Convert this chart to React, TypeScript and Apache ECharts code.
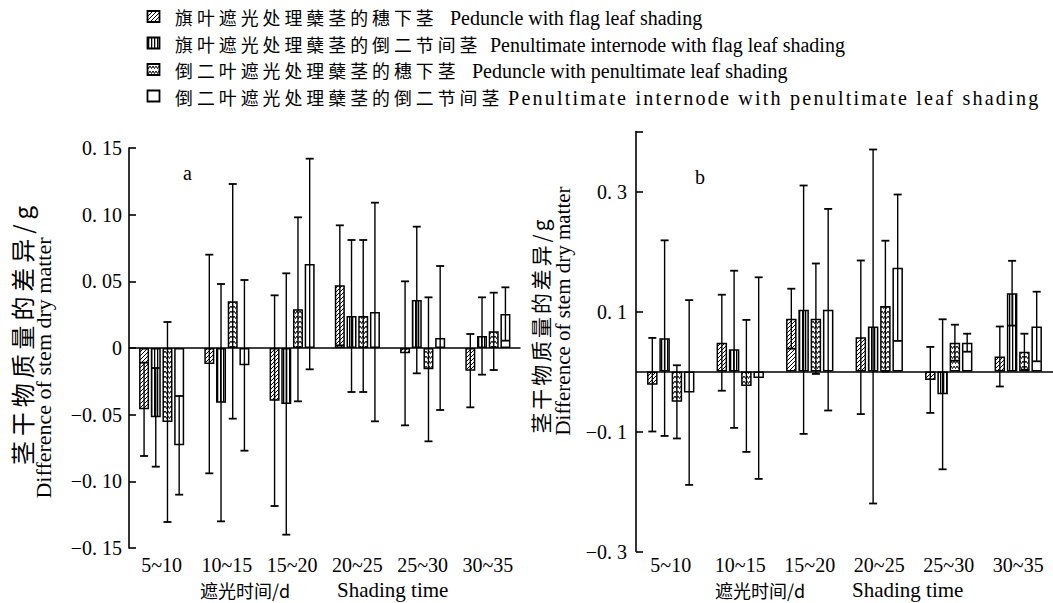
import React, { useEffect, useRef } from 'react';
import * as echarts from 'echarts';

// ---------- data ----------
const categories = ['5~10', '10~15', '15~20', '20~25', '25~30', '30~35'];

const seriesNames = [
  '旗叶遮光处理蘖茎的穗下茎 Peduncle with flag leaf shading',
  '旗叶遮光处理蘖茎的倒二节间茎 Penultimate internode with flag leaf shading',
  '倒二叶遮光处理蘖茎的穗下茎 Peduncle with penultimate leaf shading',
  '倒二叶遮光处理蘖茎的倒二节间茎 Penultimate internode with penultimate leaf shading',
];
const legendCn = [
  '旗叶遮光处理蘖茎的穗下茎',
  '旗叶遮光处理蘖茎的倒二节间茎',
  '倒二叶遮光处理蘖茎的穗下茎',
  '倒二叶遮光处理蘖茎的倒二节间茎',
];
const legendEn = [
  'Peduncle with flag leaf shading',
  'Penultimate internode with flag leaf shading',
  'Peduncle with penultimate leaf shading',
  'Penultimate internode with penultimate leaf shading',
];

// panel a (means and standard deviations, g)
const aFlagPeduncleMean = [-0.046, -0.012, -0.0395, 0.047, -0.004, -0.017];
const aFlagPeduncleSD = [0.035, 0.082, 0.079, 0.045, 0.054, 0.0275];
const aFlagInternodeMean = [-0.052, -0.041, -0.042, 0.024, 0.036, 0.009];
const aFlagInternodeSD = [0.037, 0.089, 0.098, 0.057, 0.055, 0.029];
const aPenPeduncleMean = [-0.0555, 0.035, 0.029, 0.024, -0.016, 0.0125];
const aPenPeduncleSD = [0.075, 0.088, 0.069, 0.057, 0.054, 0.029];
const aPenInternodeMean = [-0.073, -0.013, 0.063, 0.027, 0.0075, 0.0255];
const aPenInternodeSD = [0.037, 0.064, 0.079, 0.082, 0.054, 0.02];

// panel b
const bFlagPeduncleMean = [-0.022, 0.048, 0.088, 0.057, -0.014, 0.025];
const bFlagPeduncleSD = [0.078, 0.08, 0.05, 0.128, 0.055, 0.05];
const bFlagInternodeMean = [0.0556, 0.037, 0.103, 0.075, -0.038, 0.1305];
const bFlagInternodeSD = [0.163, 0.131, 0.207, 0.295, 0.125, 0.054];
const bPenPeduncleMean = [-0.0506, -0.024, 0.088, 0.109, 0.048, 0.033];
const bPenPeduncleSD = [0.061, 0.11, 0.092, 0.109, 0.03, 0.03];
const bPenInternodeMean = [-0.035, -0.011, 0.103, 0.173, 0.048, 0.075];
const bPenInternodeSD = [0.154, 0.168, 0.168, 0.122, 0.015, 0.058];

const aYTicks = { min: -0.15, max: 0.15, interval: 0.05 };
const bYTicks = { min: -0.3, max: 0.4, interval: 0.2 };

const xName = '遮光时间/d';
const xNameEn = 'Shading time';
const yNameCn = '茎干物质量的差异/g';
const yNameEn = 'Difference of stem dry matter';

// ---------- patterns ----------
function makeCanvas(w: number, h: number, draw: (c: CanvasRenderingContext2D) => void) {
  const cv = document.createElement('canvas');
  cv.width = w;
  cv.height = h;
  const c = cv.getContext('2d')!;
  c.fillStyle = '#fff';
  c.fillRect(0, 0, w, h);
  c.strokeStyle = '#000';
  c.fillStyle = '#000';
  draw(c);
  return { image: cv, repeat: 'repeat', imageWidth: w, imageHeight: h } as any;
}

function patterns() {
  const diag = makeCanvas(4, 4, (c) => {
    c.lineWidth = 1;
    c.beginPath();
    c.moveTo(0, 4); c.lineTo(4, 0);
    c.moveTo(-1, 1); c.lineTo(1, -1);
    c.moveTo(3, 5); c.lineTo(5, 3);
    c.stroke();
  });
  const vert = makeCanvas(3, 3, (c) => {
    c.fillRect(1, 0, 1.3, 3);
  });
  const zig = makeCanvas(6, 5, (c) => {
    c.lineWidth = 1;
    c.beginPath();
    c.moveTo(0, 1); c.lineTo(1.5, 3.5); c.lineTo(3, 1); c.lineTo(4.5, 3.5); c.lineTo(6, 1);
    c.stroke();
  });
  return [diag, vert, zig, '#ffffff'];
}

const serif = '"Liberation Serif", "Noto Sans CJK SC", serif';
const cjk = '"Noto Sans CJK SC", "Liberation Serif", sans-serif';

// letter-spaced texts of the scanned original (selected by their unique font size)
const spacingCss = [
  'text[style*="17.9px"]{letter-spacing:4px}',
  'text[style*="23.9px"]{letter-spacing:5px}',
  'text[style*="20.9px"]{letter-spacing:3px}',
  'text[style*="20.1px"]{letter-spacing:2.2px}',
].join('\n');

function fmtA(v: number) {
  const r = Math.round(v * 100) / 100;
  if (r === 0) return '0';
  return (r < 0 ? '−' : '') + Math.abs(r).toFixed(2).replace('.', '. ');
}
function fmtB(v: number) {
  const r = Math.round(v * 10) / 10;
  if (Math.abs(r - 0.4) < 1e-9) return '';
  if (r === 0) return '0';
  return (r < 0 ? '−' : '') + Math.abs(r).toFixed(1).replace('.', '. ');
}

export default function App() {
  const ref = useRef<HTMLDivElement>(null);

  useEffect(() => {
    if (!ref.current) return;
    const chart = echarts.init(ref.current, undefined, { renderer: 'svg' });
    const fills = patterns();

    const aMeans = [aFlagPeduncleMean, aFlagInternodeMean, aPenPeduncleMean, aPenInternodeMean];
    const aSDs = [aFlagPeduncleSD, aFlagInternodeSD, aPenPeduncleSD, aPenInternodeSD];
    const bMeans = [bFlagPeduncleMean, bFlagInternodeMean, bPenPeduncleMean, bPenInternodeMean];
    const bSDs = [bFlagPeduncleSD, bFlagInternodeSD, bPenPeduncleSD, bPenInternodeSD];

    const panels = [
      { means: aMeans, sds: aSDs, barWidth: 10, gap: 0.17 },
      { means: bMeans, sds: bSDs, barWidth: 10.5, gap: 0.17 },
    ];

    const series: any[] = [];
    panels.forEach((p, pi) => {
      const n = 4;
      const total = n * p.barWidth + (n - 1) * p.barWidth * p.gap;
      const offs = [0, 1, 2, 3].map((i) => -total / 2 + i * p.barWidth * (1 + p.gap) + p.barWidth / 2);
      p.means.forEach((m, k) => {
        series.push({
          type: 'bar',
          name: seriesNames[k],
          xAxisIndex: pi,
          yAxisIndex: pi,
          data: m,
          barWidth: p.barWidth,
          barGap: Math.round(p.gap * 100) + '%',
          itemStyle: { color: fills[k], borderColor: '#000', borderWidth: 1.5 },
          z: 2,
          markLine:
            k === 0
              ? {
                  silent: true,
                  symbol: ['none', 'none'],
                  label: { show: false },
                  lineStyle: { color: '#000', width: 1.6, type: 'solid' },
                  data: [{ yAxis: 0 }],
                  z: 4,
                }
              : undefined,
        });
      });
      const errData: number[][] = [];
      p.means.forEach((m, k) => {
        m.forEach((v, ci) => {
          errData.push([ci, v - p.sds[k][ci], v + p.sds[k][ci], k]);
        });
      });
      series.push({
        type: 'custom',
        xAxisIndex: pi,
        yAxisIndex: pi,
        z: 5,
        silent: true,
        encode: { x: 0, y: [1, 2] },
        data: errData,
        renderItem: (params: any, api: any) => {
          const cat = api.value(0);
          const lo = api.value(1);
          const hi = api.value(2);
          const k = api.value(3);
          const pLo = api.coord([cat, lo]);
          const pHi = api.coord([cat, hi]);
          const x = pLo[0] + offs[k];
          const cw = 4;
          const st = { stroke: '#000', lineWidth: 1.4 };
          return {
            type: 'group',
            children: [
              { type: 'line', shape: { x1: x, y1: pLo[1], x2: x, y2: pHi[1] }, style: st },
              { type: 'line', shape: { x1: x - cw, y1: pLo[1], x2: x + cw, y2: pLo[1] }, style: { stroke: '#000', lineWidth: 1.8 } },
              { type: 'line', shape: { x1: x - cw, y1: pHi[1], x2: x + cw, y2: pHi[1] }, style: { stroke: '#000', lineWidth: 1.8 } },
            ],
          };
        },
      });
    });

    const xAxisCommon = (gi: number, margin: number) => ({
      type: 'category',
      gridIndex: gi,
      data: categories,
      position: 'bottom',
      axisLine: { show: false, onZero: false },
      axisTick: { show: false },
      axisLabel: { color: '#000', fontFamily: serif, fontSize: 20, margin, interval: 0, hideOverlap: false },
      splitLine: { show: false },
    });

    const yAxisCommon = (gi: number, t: any, fmt: (v: number) => string, margin: number) => ({
      type: 'value',
      gridIndex: gi,
      min: t.min,
      max: t.max,
      interval: t.interval,
      axisLine: { show: true, lineStyle: { color: '#000', width: 1.6 } },
      axisTick: { show: true, inside: true, length: 7, lineStyle: { color: '#000', width: 1.6 } },
      axisLabel: { color: '#000', fontFamily: serif, fontSize: 20, margin, formatter: fmt, showMaxLabel: true, showMinLabel: true },
      splitLine: { show: false },
    });

    const legendRows = [17, 43.5, 70, 96.5];
    const graphics: any[] = [];
    legendRows.forEach((y, i) => {
      graphics.push({
        type: 'rect',
        shape: { x: 147.5, y: y - 6, width: 12, height: 11 },
        style: { fill: fills[i], stroke: '#000', lineWidth: 1.8 },
      });
      graphics.push({
        type: 'text',
        x: 175,
        y,
        style: { text: legendCn[i], fontFamily: cjk, fontSize: 17.9, fill: '#000', textAlign: 'left', textVerticalAlign: 'middle' },
      });
    });
    const enX = [450, 490, 472, 508];
    legendRows.forEach((y, i) => {
      graphics.push({
        type: 'text',
        x: enX[i],
        y: y + 1,
        style: { text: legendEn[i], fontFamily: serif, fontSize: i === 3 ? 20.1 : 20, fill: '#000', textAlign: 'left', textVerticalAlign: 'middle' },
      });
    });
    // panel letters
    graphics.push({ type: 'text', x: 187.5, y: 173, style: { text: 'a', fontFamily: serif, fontSize: 20, fill: '#000', textAlign: 'center', textVerticalAlign: 'middle' } });
    graphics.push({ type: 'text', x: 700, y: 177, style: { text: 'b', fontFamily: serif, fontSize: 20, fill: '#000', textAlign: 'center', textVerticalAlign: 'middle' } });
    // x axis names
    [
      { cx: 200, ex: 337, y: 589.5 },
      { cx: 715, ex: 852, y: 589.5 },
    ].forEach((o) => {
      graphics.push({ type: 'text', x: o.cx, y: o.y, style: { text: xName, fontFamily: cjk, fontSize: 18, fill: '#000', textAlign: 'left', textVerticalAlign: 'middle' } });
      graphics.push({ type: 'text', x: o.ex, y: o.y, style: { text: xNameEn, fontFamily: serif, fontSize: 21, fill: '#000', textAlign: 'left', textVerticalAlign: 'middle' } });
    });
    // y axis names
    [
      { cnx: 21, cny: 333, cns: 23.9, enx: 43, eny: 368, ens: 22 },
      { cnx: 540, cny: 325, cns: 20.9, enx: 563, eny: 311, ens: 21 },
    ].forEach((o) => {
      graphics.push({ type: 'text', x: o.cnx, y: o.cny, rotation: Math.PI / 2, style: { text: yNameCn, fontFamily: cjk, fontSize: o.cns, fill: '#000', textAlign: 'center', textVerticalAlign: 'middle' } });
      graphics.push({ type: 'text', x: o.enx, y: o.eny, rotation: Math.PI / 2, style: { text: yNameEn, fontFamily: serif, fontSize: o.ens, fill: '#000', textAlign: 'center', textVerticalAlign: 'middle' } });
    });

    chart.setOption({
      animation: false,
      backgroundColor: '#fff',
      grid: [
        { left: 129, top: 148, width: 391.5, height: 400, containLabel: false },
        { left: 636, top: 131.5, width: 417.6, height: 420, containLabel: false },
      ],
      xAxis: [xAxisCommon(0, 7), xAxisCommon(1, 3)],
      yAxis: [yAxisCommon(0, aYTicks, fmtA, 7), yAxisCommon(1, bYTicks, fmtB, 9)],
      series,
      graphic: graphics,
    });

    return () => chart.dispose();
  }, []);

  return (
    <>
      <style>{spacingCss}</style>
      <div
        ref={ref}
        style={{ position: 'fixed', left: 0, top: 0, width: 1053, height: 603, background: '#fff' }}
      />
    </>
  );
}
